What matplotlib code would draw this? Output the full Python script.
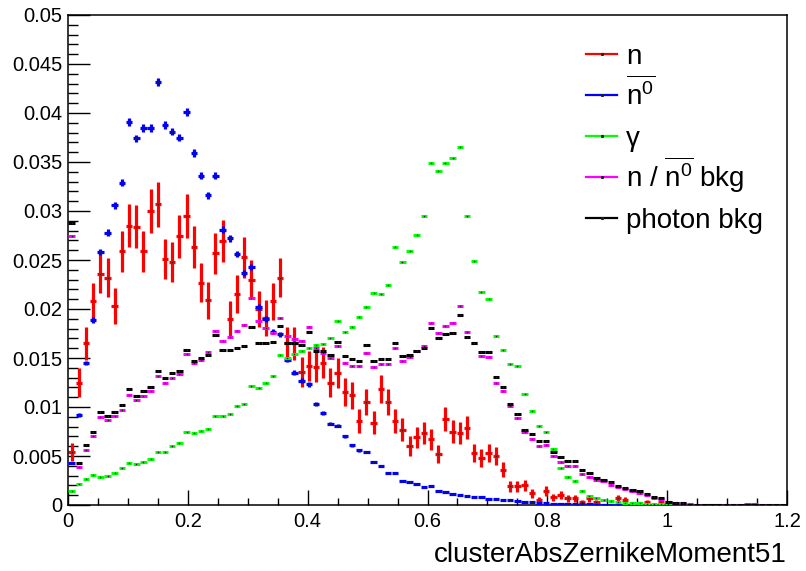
import numpy as np
import matplotlib
matplotlib.use("Agg")
import matplotlib.pyplot as plt
from matplotlib.lines import Line2D
from matplotlib.ticker import MultipleLocator, FuncFormatter

plt.rcParams["font.family"] = ["Liberation Sans", "DejaVu Sans"]
plt.rcParams["mathtext.fontset"] = "custom"
plt.rcParams["mathtext.rm"] = "Liberation Sans"
plt.rcParams["mathtext.it"] = "Liberation Sans:italic"

# 100 bins over [0, 1.2]
n_bins = 100
x_min, x_max = 0.0, 1.2

neutron = [
    0.0054, 0.0125, 0.0165, 0.0208, 0.0236, 0.0232, 0.0203, 0.0259, 0.0285, 0.0284,
    0.0259, 0.0300, 0.0307, 0.0251, 0.0248, 0.0274, 0.0295, 0.0263, 0.0227, 0.0209,
    0.0257, 0.0269, 0.0190, 0.0215, 0.0253, 0.0230, 0.0200, 0.0191, 0.0208, 0.0232,
    0.0165, 0.0165, 0.0136, 0.0142, 0.0141, 0.0145, 0.0125, 0.0135, 0.0115, 0.0112,
    0.0086, 0.0105, 0.0084, 0.0118, 0.0105, 0.0086, 0.0077, 0.0060, 0.0069, 0.0073,
    0.0067, 0.0052, 0.0088, 0.0075, 0.0073, 0.0079, 0.0053, 0.0048, 0.0053, 0.0050,
    0.0036, 0.0019, 0.0019, 0.0020, 0.0012, 0.0005, 0.0014, 0.0008, 0.0010, 0.0007,
    0.0007, 0.0003, 0.0007, 0.0003, 0.0, 0.0, 0.0007, 0.0005, 0.0, 0.0,
    0.0003, 0.0, 0.0003, 0.0, 0.0, 0.0, 0.0, 0.0, 0.0, 0.0,
    0.0, 0.0, 0.0, 0.0, 0.0, 0.0, 0.0, 0.0, 0.0, 0.0,
]
neutron_err = [
    0.00096, 0.00147, 0.00168, 0.00189, 0.00201, 0.00200, 0.00187, 0.00211, 0.00221, 0.00221,
    0.00211, 0.00227, 0.00230, 0.00208, 0.00206, 0.00217, 0.00225, 0.00213, 0.00198, 0.00190,
    0.00210, 0.00215, 0.00181, 0.00192, 0.00209, 0.00199, 0.00185, 0.00181, 0.00189, 0.00200,
    0.00168, 0.00168, 0.00153, 0.00156, 0.00156, 0.00158, 0.00147, 0.00152, 0.00141, 0.00139,
    0.00122, 0.00134, 0.00120, 0.00142, 0.00134, 0.00122, 0.00115, 0.00102, 0.00109, 0.00112,
    0.00107, 0.00095, 0.00123, 0.00114, 0.00112, 0.00117, 0.00095, 0.00091, 0.00095, 0.00093,
    0.00079, 0.00057, 0.00057, 0.00059, 0.00045, 0.00029, 0.00049, 0.00037, 0.00041, 0.00035,
    0.00035, 0.00023, 0.00035, 0.00023, 0.0, 0.0, 0.00035, 0.00029, 0.0, 0.0,
    0.00023, 0.0, 0.00023, 0.0, 0.0, 0.0, 0.0, 0.0, 0.0, 0.0,
    0.0, 0.0, 0.0, 0.0, 0.0, 0.0, 0.0, 0.0, 0.0, 0.0,
]

antineutron = [
    0.0043, 0.0092, 0.0145, 0.0189, 0.0258, 0.0278, 0.0306, 0.0329, 0.0391, 0.0374,
    0.0385, 0.0385, 0.0432, 0.0388, 0.0381, 0.0375, 0.0401, 0.0359, 0.0336, 0.0316,
    0.0336, 0.0281, 0.0272, 0.0256, 0.0237, 0.0243, 0.0202, 0.0190, 0.0177, 0.0174,
    0.0148, 0.0135, 0.0127, 0.0123, 0.0103, 0.0094, 0.0083, 0.0081, 0.0070, 0.0061,
    0.0056, 0.0054, 0.0044, 0.0040, 0.0033, 0.0033, 0.0025, 0.0023, 0.0021, 0.0018,
    0.0019, 0.0014, 0.0013, 0.0011, 0.0010, 0.0009, 0.0008, 0.0008, 0.0006, 0.0006,
    0.0005, 0.0005, 0.0004, 0.0003, 0.0003, 0.0002, 0.0002, 0.0001, 0.0001, 0.0001,
    0.0001, 0.0001, 0.0001, 0.00005, 0.00005, 0.00005, 0.00005, 0.00005, 0.00005, 0.00005,
    0.0, 0.0, 0.0, 0.0, 0.0, 0.0, 0.0, 0.0, 0.0, 0.0,
    0.0, 0.0, 0.0, 0.0, 0.0, 0.0, 0.0, 0.0, 0.0, 0.0,
]
antineutron_err = [
    0.00013, 0.00019, 0.00024, 0.00028, 0.00032, 0.00033, 0.00035, 0.00036, 0.00040, 0.00039,
    0.00039, 0.00039, 0.00042, 0.00039, 0.00039, 0.00039, 0.00040, 0.00038, 0.00037, 0.00036,
    0.00037, 0.00034, 0.00033, 0.00032, 0.00031, 0.00031, 0.00028, 0.00028, 0.00027, 0.00026,
    0.00024, 0.00023, 0.00023, 0.00022, 0.00020, 0.00019, 0.00018, 0.00018, 0.00017, 0.00016,
    0.00015,
] + [0.0] * 59

gamma = [
    0.0014, 0.0021, 0.0027, 0.0031, 0.0029, 0.0030, 0.0033, 0.0038, 0.0043, 0.0042,
    0.0044, 0.0047, 0.0054, 0.0054, 0.0060, 0.0063, 0.0074, 0.0073, 0.0076, 0.0078,
    0.0091, 0.0091, 0.0093, 0.0101, 0.0103, 0.0121, 0.0119, 0.0124, 0.0132, 0.0153,
    0.0150, 0.0154, 0.0157, 0.0160, 0.0163, 0.0164, 0.0170, 0.0188, 0.0177, 0.0182,
    0.0192, 0.0202, 0.0216, 0.0215, 0.0225, 0.0263, 0.0248, 0.0259, 0.0276, 0.0295,
    0.0349, 0.0341, 0.0349, 0.0354, 0.0365, 0.0295, 0.0249, 0.0217, 0.0210, 0.0172,
    0.0158, 0.0144, 0.0142, 0.0113, 0.0096, 0.0081, 0.0074, 0.0057, 0.0038, 0.0029,
    0.0024, 0.0014, 0.0009, 0.0007, 0.0005, 0.0004, 0.0003, 0.0002, 0.0002, 0.0002,
    0.0001, 0.0001, 0.0001, 0.0001, 0.0001, 0.0001, 0.0001, 0.0, 0.0, 0.0,
    0.0, 0.0, 0.0, 0.0, 0.0, 0.0, 0.0, 0.0, 0.0, 0.0,
]

n_bkg = [
    0.0274, 0.0039, 0.0056, 0.0070, 0.0090, 0.0087, 0.0091, 0.0097, 0.0112, 0.0107,
    0.0111, 0.0116, 0.0132, 0.0124, 0.0130, 0.0134, 0.0154, 0.0145, 0.0148, 0.0156,
    0.0178, 0.0167, 0.0171, 0.0178, 0.0184, 0.0211, 0.0188, 0.0181, 0.0176, 0.0191,
    0.0172, 0.0169, 0.0167, 0.0182, 0.0160, 0.0155, 0.0150, 0.0162, 0.0145, 0.0142,
    0.0142, 0.0155, 0.0141, 0.0144, 0.0144, 0.0160, 0.0147, 0.0151, 0.0157, 0.0162,
    0.0186, 0.0176, 0.0183, 0.0186, 0.0203, 0.0177, 0.0165, 0.0152, 0.0151, 0.0125,
    0.0116, 0.0101, 0.0089, 0.0074, 0.0067, 0.0060, 0.0061, 0.0050, 0.0044, 0.0040,
    0.0040, 0.0032, 0.0029, 0.0026, 0.0024, 0.0020, 0.0018, 0.0016, 0.0014, 0.0012,
    0.0010, 0.0007, 0.0006, 0.0003, 0.0002, 0.0002, 0.0001, 0.00005, 0.00005, 0.00005,
    0.00005, 0.00005, 0.00005, 0.00005, 0.0001, 0.0001, 0.0, 0.0, 0.0, 0.0,
]

photon_bkg = [
    0.0288, 0.0043, 0.0061, 0.0074, 0.0095, 0.0091, 0.0095, 0.0102, 0.0118, 0.0111,
    0.0116, 0.0120, 0.0137, 0.0130, 0.0135, 0.0137, 0.0158, 0.0147, 0.0150, 0.0153,
    0.0173, 0.0158, 0.0158, 0.0160, 0.0162, 0.0182, 0.0165, 0.0165, 0.0166, 0.0183,
    0.0165, 0.0165, 0.0163, 0.0177, 0.0157, 0.0157, 0.0153, 0.0166, 0.0152, 0.0149,
    0.0147, 0.0163, 0.0147, 0.0149, 0.0149, 0.0165, 0.0152, 0.0153, 0.0157, 0.0160,
    0.0181, 0.0170, 0.0174, 0.0176, 0.0194, 0.0171, 0.0165, 0.0156, 0.0156, 0.0131,
    0.0120, 0.0103, 0.0093, 0.0077, 0.0072, 0.0065, 0.0065, 0.0054, 0.0049, 0.0045,
    0.0045, 0.0036, 0.0033, 0.0028, 0.0026, 0.0023, 0.0019, 0.0017, 0.0015, 0.0014,
    0.0011, 0.0008, 0.0007, 0.0003, 0.0002, 0.0002, 0.00005, 0.00005, 0.00005, 0.00005,
    0.00005, 0.00005, 0.00005, 0.00005, 0.00005, 0.00005, 0.00005, 0.00005, 0.00005, 0.00005,
]

legend_labels = [
    "n",
    r"$\overline{\mathrm{n}^{0}}$",
    "\u03b3",
    r"n / $\overline{\mathrm{n}^{0}}$ bkg",
    "photon bkg",
]
colors = ["#ff0000", "#0000ff", "#00ff00", "#ff00ff", "#000000"]

W, H = 806, 571
edges = np.linspace(x_min, x_max, n_bins + 1)
centers = 0.5 * (edges[:-1] + edges[1:])
half_w = 0.5 * (edges[1] - edges[0])

fig = plt.figure(figsize=(W / 100, H / 100), dpi=100)
ax = fig.add_axes([68 / W, 66 / H, 719 / W, 490 / H])


def draw_hist(vals, errs, color, lw, z):
    v = np.asarray(vals)
    m = v > 0
    yerr = None if errs is None else np.asarray(errs)[m]
    ax.errorbar(centers[m], v[m], xerr=half_w * 0.9, yerr=yerr, fmt="none",
                ecolor=color, elinewidth=lw, capsize=0, zorder=z)
    ax.plot(centers[m], v[m], ls="none", marker="s", ms=1.0, mew=0,
            color="#202020", zorder=z + 0.1)


draw_hist(neutron, neutron_err, colors[0], 2.3, 2)
draw_hist(antineutron, antineutron_err, colors[1], 2.3, 3)
draw_hist(gamma, None, colors[2], 2.2, 4)
draw_hist(n_bkg, None, colors[3], 2.2, 5)
draw_hist(photon_bkg, None, colors[4], 2.2, 6)

ax.set_xlim(x_min, x_max)
ax.set_ylim(0, 0.05)

fmt = FuncFormatter(lambda v, p: "%g" % round(v, 4))
ax.xaxis.set_major_locator(MultipleLocator(0.2))
ax.xaxis.set_minor_locator(MultipleLocator(0.05))
ax.yaxis.set_major_locator(MultipleLocator(0.005))
ax.yaxis.set_minor_locator(MultipleLocator(0.001))
ax.xaxis.set_major_formatter(fmt)
ax.yaxis.set_major_formatter(fmt)

ax.tick_params(axis="both", which="both", direction="in", top=False, right=False,
               labelsize=14.5, width=1.0)
ax.tick_params(axis="x", which="major", length=11, pad=5)
ax.tick_params(axis="x", which="minor", length=5)
ax.tick_params(axis="y", which="major", length=16, pad=4)
ax.tick_params(axis="y", which="minor", length=7.5)
for s in ax.spines.values():
    s.set_linewidth(1.1)

ax.set_xlabel("clusterAbsZernikeMoment51", fontsize=20, ha="right")
ax.xaxis.set_label_coords(1.0, -0.075)

# legend drawn by hand so every row has the same spacing (ROOT style, no box)
row0, row_step = 53.5, 41.2
for i, (lab, c) in enumerate(zip(legend_labels, colors)):
    y_px = row0 + i * row_step
    yf = (H - y_px) / H
    fig.add_artist(Line2D([586 / W, 617 / W], [yf, yf], color=c, lw=1.6,
                          transform=fig.transFigure))
    fig.add_artist(Line2D([601.5 / W], [yf], marker="s", ms=1.2, color="#202020",
                          transform=fig.transFigure))
    fig.text(626 / W, (H - y_px - 10) / H, lab, fontsize=20, ha="left", va="baseline")

fig.savefig("out.png", dpi=100)
